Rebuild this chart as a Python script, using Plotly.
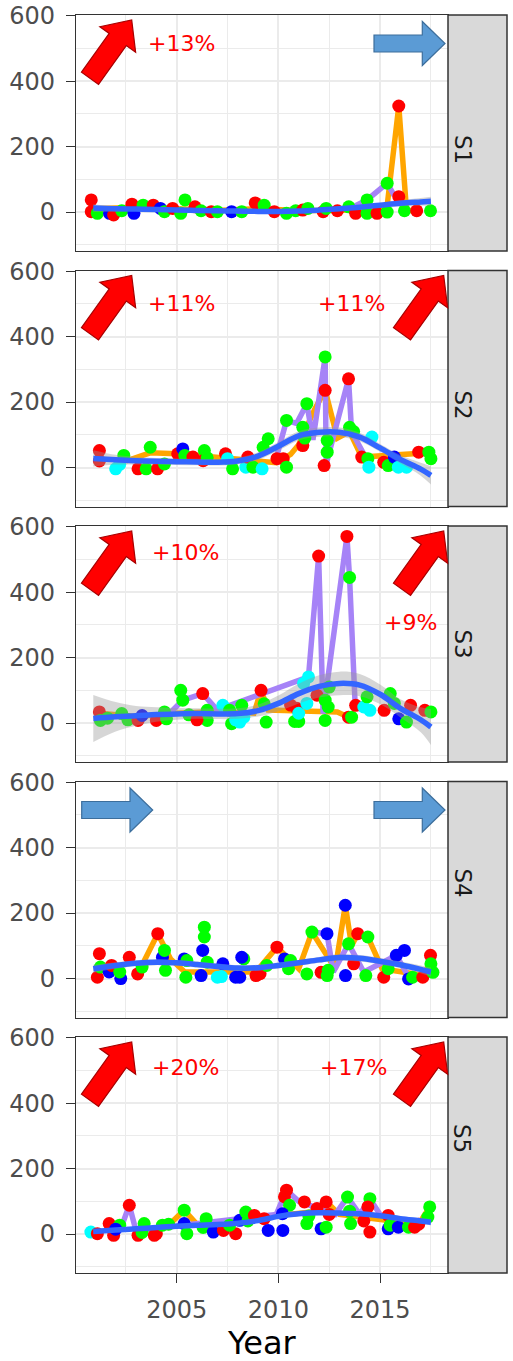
import numpy as np
import plotly.graph_objects as go

# ---------------- data ----------------
PANELS = ["S1", "S2", "S3", "S4", "S5"]
COLORS = {"r": "#FF0000", "g": "#00FF00", "b": "#0000FF", "c": "#00FFFF"}

X_TICKS = [2005, 2010, 2015]
Y_TICKS = [0, 200, 400, 600]

# smooth (loess) fit
FIT_YEARS = [2000.9, 2002, 2003, 2004, 2005, 2006, 2007, 2008, 2009, 2010,
             2011, 2012, 2013, 2014, 2015, 2016, 2017, 2017.5]
S1_fit = [12, 10, 9, 8, 6, 5, 4, 3, 2, 2, 3, 6, 10, 15, 21, 27, 31, 33]
S1_se = [12, 8, 6, 5, 5, 5, 5, 5, 5, 5, 5, 5, 5, 6, 7, 9, 12, 14]
S2_fit = [28, 24, 21, 19, 18, 17, 16, 20, 35, 65, 97, 108, 108, 93, 60, 25, -5, -24]
S2_se = [25, 15, 12, 10, 10, 10, 10, 10, 12, 13, 14, 14, 14, 13, 12, 13, 20, 28]
S3_fit = [14, 19, 22, 26, 28, 29, 28, 29, 38, 60, 90, 112, 121, 116, 88, 45, 10, -12]
S3_se = [72, 45, 30, 22, 18, 16, 16, 16, 18, 24, 30, 34, 36, 34, 30, 28, 38, 55]
S4_fit = [30, 40, 47, 50, 48, 43, 37, 32, 33, 40, 48, 57, 64, 62, 53, 42, 28, 20]
S4_se = [12, 10, 9, 9, 9, 9, 9, 9, 9, 9, 9, 9, 10, 10, 10, 10, 12, 14]
S5_fit = [8, 12, 16, 20, 24, 27, 29, 33, 41, 54, 62, 65, 64, 62, 56, 47, 40, 36]
S5_se = [8, 6, 6, 6, 6, 6, 6, 6, 6, 7, 7, 7, 7, 7, 7, 7, 8, 10]

# connecting lines (orange / purple series)
S1_orange_x = [2001, 2003, 2005, 2007, 2009, 2011, 2013, 2014.4, 2015.35, 2015.92, 2016.3, 2017]
S1_orange_y = [10, 15, 10, 5, 10, 5, 5, 10, 20, 324, 5, 5]
S1_purple_x = [2013.5, 2014.36, 2015.35, 2015.7]
S1_purple_y = [10, 37, 88, 50]

S2_orange_x = [2002.5, 2003.7, 2005.0, 2007.0, 2009.9, 2010.6, 2011.0, 2011.8, 2012.3, 2012.9, 2013.5, 2014.1, 2016.9, 2017.4]
S2_orange_y = [20, 45, 42, 30, 15, 40, 70, 180, 236, 90, 110, 32, 40, 45]
S2_purple_x = [2009.9, 2010.4, 2010.9, 2011.4, 2011.7, 2012.3, 2012.35, 2013.45, 2013.6, 2014.3]
S2_purple_y = [30, 144, 135, 195, 85, 338, 10, 271, 110, 30]

S3_orange_x = [2001.2, 2003, 2005, 2007, 2008.8, 2009.15, 2009.5, 2012.9, 2013.45, 2013.7]
S3_orange_y = [30, 20, 30, 35, 30, 100, 40, 34, 18, 20]
S3_purple_x = [2004.5, 2005.3, 2006.28, 2007.0, 2011.48, 2011.98, 2012.2, 2013.37, 2013.5, 2013.78]
S3_purple_y = [20, 70, 90, 40, 141, 510, 29, 570, 445, 49]

S4_orange_x = [2003.08, 2004.07, 2004.7, 2005.4, 2008.9, 2009.93, 2011.0, 2011.65, 2012.8, 2013.29, 2013.6, 2013.9, 2014.4, 2015.1, 2017.1, 2017.5]
S4_orange_y = [14, 137, 60, 20, 20, 96, 30, 142, 30, 224, 100, 137, 127, 30, 10, 50]
S4_purple_x = [2011.65, 2012.39, 2012.7, 2013.45, 2014.2, 2015.8, 2016.4]
S4_purple_y = [142, 137, 20, 106, 20, 71, 5]

S5_orange_x = [2004.6, 2005.37, 2006.0, 2012.0, 2012.5, 2013.0, 2016.9, 2017.44]
S5_orange_y = [27, 73, 30, 70, 90, 60, 30, 83]
S5_purple_x = [2002.3, 2002.67, 2003.0, 2009.9, 2010.4, 2011.0, 2012.8, 2013.4, 2014.0, 2014.5, 2015.0]
S5_purple_y = [25, 88, 10, 60, 134, 100, 60, 113, 60, 108, 60]

# observed points: (year, value, colour key)
S1_points = [(2000.8, 37, "r"), (2000.8, 1, "r"), (2001.1, -4, "g"), (2001.7, -4, "b"), (2001.9, -9, "r"),
             (2002.3, 4, "g"), (2002.8, 24, "r"), (2002.9, -4, "b"), (2003.35, 21, "g"), (2003.85, 21, "r"),
             (2004.2, 11, "b"), (2004.4, 1, "g"), (2004.8, 11, "r"), (2005.41, 37, "g"), (2005.2, -4, "g"),
             (2005.9, 16, "r"), (2006.2, 4, "g"), (2006.7, 1, "r"), (2007.0, 1, "g"), (2007.7, 1, "b"),
             (2008.2, 1, "g"), (2008.86, 28, "r"), (2009.3, 21, "g"), (2009.8, 1, "r"), (2010.4, -4, "g"),
             (2010.85, 4, "g"), (2011.2, 6, "r"), (2011.45, 11, "g"), (2012.2, 1, "r"), (2012.35, 11, "g"),
             (2012.9, 4, "r"), (2013.46, 16, "g"), (2013.8, -4, "r"), (2014.36, 37, "g"), (2014.36, -4, "g"),
             (2014.85, -4, "r"), (2015.35, 88, "g"), (2015.35, 0, "g"), (2015.92, 324, "r"), (2015.92, 47, "r"),
             (2016.2, 4, "g"), (2016.8, 4, "r"), (2017.48, 4, "g")]
S2_points = [(2001.2, 52, "r"), (2001.2, 20, "r"), (2002.0, -4, "c"), (2002.4, 37, "g"), (2002.2, 10, "c"),
             (2003.1, -4, "r"), (2003.7, 62, "g"), (2003.5, -4, "g"), (2004.06, -4, "r"), (2004.4, 11, "g"),
             (2005.05, 42, "r"), (2005.3, 57, "b"), (2005.4, 37, "g"), (2005.8, 32, "r"), (2006.36, 52, "g"),
             (2006.3, 21, "r"), (2006.5, 30, "g"), (2007.4, 42, "r"), (2007.5, 27, "c"), (2007.75, -4, "g"),
             (2008.4, 1, "c"), (2008.5, 32, "r"), (2008.75, 1, "g"), (2009.2, -4, "c"), (2009.25, 62, "g"),
             (2009.5, 88, "g"), (2009.93, 27, "r"), (2010.24, 27, "r"), (2010.4, 1, "g"), (2010.4, 144, "g"),
             (2011.4, 195, "g"), (2011.2, 123, "g"), (2011.2, 67, "r"), (2011.3, 90, "g"), (2012.3, 338, "g"),
             (2012.3, 236, "r"), (2012.25, 6, "r"), (2012.4, 83, "g"), (2012.4, 47, "g"), (2013.45, 271, "r"),
             (2013.5, 123, "g"), (2013.7, 110, "g"), (2014.1, 32, "r"), (2014.4, 27, "g"), (2014.45, 1, "c"),
             (2014.6, 93, "c"), (2015.18, 16, "r"), (2015.4, 6, "g"), (2015.7, 32, "b"), (2015.9, 1, "c"),
             (2016.3, 1, "c"), (2016.9, 47, "r"), (2017.4, 47, "g"), (2017.5, 27, "g")]
S3_points = [(2001.2, 34, "r"), (2001.25, 8, "g"), (2001.6, 15, "g"), (2002.3, 29, "g"), (2002.6, 10, "g"),
             (2003.1, 8, "r"), (2003.3, 23, "b"), (2004.0, 8, "r"), (2004.4, 34, "g"), (2004.5, 13, "g"),
             (2005.2, 100, "g"), (2005.3, 70, "g"), (2005.6, 25, "g"), (2006.28, 90, "r"), (2006.5, 39, "g"),
             (2006.5, 8, "g"), (2006.0, 10, "r"), (2007.27, 54, "c"), (2007.6, 39, "g"), (2007.7, -2, "g"),
             (2008.1, 3, "c"), (2008.2, 54, "g"), (2008.3, 18, "c"), (2007.9, 10, "c"), (2009.15, 100, "r"),
             (2009.3, 59, "g"), (2009.4, 3, "g"), (2010.6, 55, "r"), (2010.9, 45, "r"), (2010.8, 5, "g"),
             (2011.0, 5, "g"), (2011.0, 30, "c"), (2011.24, 121, "c"), (2011.48, 141, "c"), (2011.4, 60, "c"),
             (2011.9, 85, "r"), (2011.98, 510, "r"), (2012.3, 70, "g"), (2012.45, 49, "g"), (2012.3, 8, "g"),
             (2012.5, 110, "g"), (2013.37, 570, "r"), (2013.5, 445, "g"), (2013.45, 18, "r"), (2013.6, 18, "g"),
             (2013.8, 54, "r"), (2014.2, 49, "c"), (2014.5, 39, "c"), (2014.36, 80, "g"), (2015.2, 39, "r"),
             (2015.5, 90, "g"), (2015.7, 60, "g"), (2015.92, 13, "b"), (2016.3, 3, "g"), (2016.5, 54, "r"),
             (2017.2, 39, "r"), (2017.5, 34, "g")]
S4_points = [(2001.2, 76, "r"), (2001.1, 4, "r"), (2001.25, 35, "g"), (2001.68, 20, "b"), (2001.8, 40, "r"),
             (2002.25, 0, "b"), (2002.67, 65, "r"), (2002.2, 20, "g"), (2003.08, 14, "r"), (2003.3, 35, "g"),
             (2004.07, 137, "r"), (2004.3, 65, "b"), (2004.45, 25, "g"), (2004.4, 86, "g"), (2005.37, 60, "b"),
             (2005.45, 4, "g"), (2005.5, 55, "g"), (2006.28, 86, "b"), (2006.36, 157, "g"), (2006.36, 127, "g"),
             (2006.2, 9, "b"), (2006.5, 50, "g"), (2007.27, 45, "b"), (2007.0, 4, "c"), (2007.2, 6, "c"),
             (2007.9, 4, "b"), (2008.1, 4, "b"), (2008.3, 60, "g"), (2008.2, 65, "b"), (2008.9, 9, "r"),
             (2009.1, 15, "r"), (2009.43, 40, "g"), (2009.93, 96, "r"), (2010.3, 60, "b"), (2010.5, 30, "g"),
             (2010.6, 55, "g"), (2011.65, 142, "g"), (2011.4, 14, "g"), (2012.39, 137, "b"), (2012.1, 19, "r"),
             (2012.4, 9, "g"), (2012.45, 25, "g"), (2013.29, 224, "b"), (2013.3, 9, "b"), (2013.45, 106, "g"),
             (2013.9, 137, "r"), (2014.4, 127, "g"), (2013.7, 45, "r"), (2014.3, 9, "g"), (2015.18, 4, "r"),
             (2015.4, 30, "g"), (2015.8, 71, "b"), (2016.2, 86, "b"), (2016.4, -1, "b"), (2016.6, 4, "g"),
             (2017.48, 71, "r"), (2017.5, 45, "g"), (2017.1, 4, "r"), (2017.6, 19, "g")]
S5_points = [(2000.78, 6, "c"), (2001.1, 1, "r"), (2001.68, 32, "r"), (2001.9, -4, "r"), (2002.2, 27, "g"),
             (2002.0, 15, "b"), (2002.67, 88, "r"), (2003.1, -4, "r"), (2003.4, 32, "g"), (2003.3, 5, "g"),
             (2003.9, -4, "r"), (2004.0, 1, "r"), (2004.3, 27, "g"), (2004.6, 30, "g"), (2005.37, 73, "g"),
             (2005.37, 32, "b"), (2005.5, 1, "g"), (2006.45, 47, "g"), (2006.3, 20, "g"), (2006.8, 6, "b"),
             (2007.3, 11, "r"), (2007.9, 1, "r"), (2007.6, 27, "g"), (2008.1, 42, "b"), (2008.4, 67, "g"),
             (2008.5, 40, "g"), (2008.82, 57, "r"), (2009.3, 47, "r"), (2009.5, 11, "b"), (2010.22, 11, "b"),
             (2010.4, 134, "r"), (2010.3, 114, "r"), (2010.55, 88, "g"), (2010.2, 62, "b"), (2011.28, 98, "r"),
             (2011.4, 32, "g"), (2011.5, 55, "g"), (2011.9, 78, "r"), (2012.35, 98, "r"), (2012.1, 16, "b"),
             (2012.35, 21, "g"), (2012.5, 60, "r"), (2013.4, 113, "g"), (2013.55, 32, "g"), (2013.5, 70, "g"),
             (2014.5, 108, "g"), (2014.4, 83, "r"), (2014.5, 6, "r"), (2014.2, 40, "r"), (2015.4, 57, "r"),
             (2015.4, 16, "b"), (2015.5, 27, "g"), (2015.9, 21, "b"), (2016.4, 21, "g"), (2016.7, 21, "r"),
             (2016.9, 30, "r"), (2017.44, 83, "g"), (2017.35, 52, "g")]

# trend labels
PCT_TEXT = {"S1": ["+13%"], "S2": ["+11%", "+11%"], "S3": ["+10%", "+9%"], "S4": [], "S5": ["+20%", "+17%"]}
ARROWS = {"S1": ["up", "flat"], "S2": ["up", "up"], "S3": ["up", "up"], "S4": ["flat", "flat"], "S5": ["up", "up"]}

DATA = {
    "S1": (S1_fit, S1_se, S1_orange_x, S1_orange_y, S1_purple_x, S1_purple_y, S1_points),
    "S2": (S2_fit, S2_se, S2_orange_x, S2_orange_y, S2_purple_x, S2_purple_y, S2_points),
    "S3": (S3_fit, S3_se, S3_orange_x, S3_orange_y, S3_purple_x, S3_purple_y, S3_points),
    "S4": (S4_fit, S4_se, S4_orange_x, S4_orange_y, S4_purple_x, S4_purple_y, S4_points),
    "S5": (S5_fit, S5_se, S5_orange_x, S5_orange_y, S5_purple_x, S5_purple_y, S5_points),
}

# ---------------- layout geometry (pixels) ----------------
W, H = 513, 1361
ML, MR, MT, MB = 76, 65, 15, 88
PW = W - ML - MR
PH = H - MT - MB
PANEL_H = 236
PANEL_PITCH = 255.5
STRIP_RIGHT = 507
X_RANGE = [2000.05, 2018.34]
Y_RANGE = [-119, 602]
FONT = "DejaVu Sans"
GRID = "#EBEBEB"
BORDER = "#333333"


def px_x(x):
    return (x - ML) / PW


def px_y(y):
    return 1 - (y - MT) / PH


def block_arrow(tail, tip, a, h, L):
    T = np.array(tail, float)
    P = np.array(tip, float)
    u = (P - T) / np.linalg.norm(P - T)
    n = np.array([-u[1], u[0]])
    B = P - L * u
    return [T + a * n, B + a * n, B + h * n, P, B - h * n, B - a * n, T - a * n]


def path_from(pts, top):
    s = ""
    for k, p in enumerate(pts):
        s += ("M" if k == 0 else "L") + f"{px_x(p[0]):.5f},{px_y(p[1] + top):.5f} "
    return s + "Z"


# arrow geometry (relative to panel top), left & right positions
UP_ARROW = dict(tail=(90, 63.3), tip=(131.7, 5), a=10.5, h=22, L=24, dx=312)
FLAT_ARROW = dict(tail=(81.7, 28.5), tip=(152.7, 28.5), a=8.5, h=22, L=22.7, dx=292.3)
PCT_POS = {"S1": [(181.7, 28.3)], "S2": [(181.7, 32.6), (351.7, 32.6)],
           "S3": [(185, 26.3), (410.8, 96.3)], "S4": [], "S5": [(185, 30.3), (353.3, 30.3)]}

fig = go.Figure()
shapes = []
annotations = []
fit_x = np.array(FIT_YEARS)

for i, name in enumerate(PANELS):
    fit, se, ox, oy, ppx, ppy, pts = DATA[name]
    suffix = "" if i == 0 else str(i + 1)
    xa, ya = "x" + suffix, "y" + suffix
    top = MT + i * PANEL_PITCH
    bottom = top + PANEL_H
    dom = [px_y(bottom), px_y(top)]

    fig.add_trace(go.Scatter(x=ox, y=oy, mode="lines", line=dict(color="#FFA500", width=5.5),
                             xaxis=xa, yaxis=ya, showlegend=False, hoverinfo="skip"))
    fig.add_trace(go.Scatter(x=ppx, y=ppy, mode="lines", line=dict(color="#A683F7", width=5.5),
                             xaxis=xa, yaxis=ya, showlegend=False, hoverinfo="skip"))
    px_, py_, pc_ = zip(*pts)
    fig.add_trace(go.Scatter(x=px_, y=py_, mode="markers",
                             marker=dict(color=[COLORS[c] for c in pc_], size=13, line=dict(width=0)),
                             xaxis=xa, yaxis=ya, showlegend=False))
    fit_a = np.array(fit, float)
    se_a = np.array(se, float)
    fig.add_trace(go.Scatter(x=fit_x, y=fit_a - se_a, mode="lines", line=dict(width=0, shape="spline"),
                             xaxis=xa, yaxis=ya, showlegend=False, hoverinfo="skip"))
    fig.add_trace(go.Scatter(x=fit_x, y=fit_a + se_a, mode="lines", line=dict(width=0, shape="spline"),
                             fill="tonexty", fillcolor="rgba(153,153,153,0.4)",
                             xaxis=xa, yaxis=ya, showlegend=False, hoverinfo="skip"))
    fig.add_trace(go.Scatter(x=fit_x, y=fit_a, mode="lines", line=dict(color="#3366FF", width=5.5, shape="spline"),
                             xaxis=xa, yaxis=ya, showlegend=False))

    last = i == len(PANELS) - 1
    fig.layout["xaxis" + suffix] = dict(
        domain=[0, 1], range=X_RANGE, anchor=ya, tickvals=X_TICKS, automargin=False,
        showticklabels=last, ticks="outside" if last else "", ticklen=9, tickcolor=BORDER,
        tickfont=dict(family=FONT, size=24, color="#4D4D4D"), ticklabelstandoff=6,
        showgrid=True, gridcolor=GRID, gridwidth=1.6, zeroline=False,
        showline=True, mirror=True, linecolor=BORDER, linewidth=1.2,
        minor=dict(tickvals=[2002.5, 2007.5, 2012.5, 2017.5], showgrid=True, gridcolor=GRID, gridwidth=1),
    )
    fig.layout["yaxis" + suffix] = dict(
        domain=dom, range=Y_RANGE, anchor=xa, tickvals=Y_TICKS, automargin=False,
        ticks="outside", ticklen=9, tickcolor=BORDER,
        tickfont=dict(family=FONT, size=24, color="#4D4D4D"), ticklabelstandoff=6,
        showgrid=True, gridcolor=GRID, gridwidth=1.6, zeroline=False,
        showline=True, mirror=True, linecolor=BORDER, linewidth=1.2,
        minor=dict(tickvals=[-100, 100, 300, 500], showgrid=True, gridcolor=GRID, gridwidth=1),
    )

    # strip
    shapes.append(dict(type="rect", xref="paper", yref="paper", x0=1.0, x1=px_x(STRIP_RIGHT),
                       y0=dom[0], y1=dom[1], fillcolor="#D9D9D9", line=dict(color=BORDER, width=1.5)))
    annotations.append(dict(xref="paper", yref="paper", x=px_x((ML + PW + STRIP_RIGHT) / 2),
                            y=(dom[0] + dom[1]) / 2, text=name, showarrow=False, textangle=90,
                            font=dict(family=FONT, size=23, color="#1A1A1A")))

    # arrows
    for side, kind in enumerate(ARROWS[name]):
        g = UP_ARROW if kind == "up" else FLAT_ARROW
        off = g["dx"] * side
        pts_ = block_arrow((g["tail"][0] + off, g["tail"][1]), (g["tip"][0] + off, g["tip"][1]),
                           g["a"], g["h"], g["L"])
        if kind == "up":
            fill, lc = "#FF0000", "#A80000"
        else:
            fill, lc = "#5B9BD5", "#3C6E9C"
        shapes.append(dict(type="path", xref="paper", yref="paper", path=path_from(pts_, top),
                           fillcolor=fill, line=dict(color=lc, width=1.2), layer="above"))

    for txt, (xp, yp) in zip(PCT_TEXT[name], PCT_POS[name]):
        annotations.append(dict(xref="paper", yref="paper", x=px_x(xp), y=px_y(top + yp),
                                text=txt, showarrow=False, xanchor="center", yanchor="middle",
                                font=dict(family=FONT, size=22, color="#FF0000")))

annotations.append(dict(xref="paper", yref="paper", x=0.5, y=px_y(1343), text="Year", showarrow=False,
                        xanchor="center", yanchor="middle", font=dict(family=FONT, size=32, color="#000000")))

fig.update_layout(
    width=W, height=H, margin=dict(l=ML, r=MR, t=MT, b=MB, pad=0, autoexpand=False),
    paper_bgcolor="white", plot_bgcolor="white",
    shapes=shapes, annotations=annotations, showlegend=False,
)

fig.write_html("out.html", config={"displayModeBar": False},
               post_script="document.body.style.margin='0';document.body.style.overflow='hidden';")
